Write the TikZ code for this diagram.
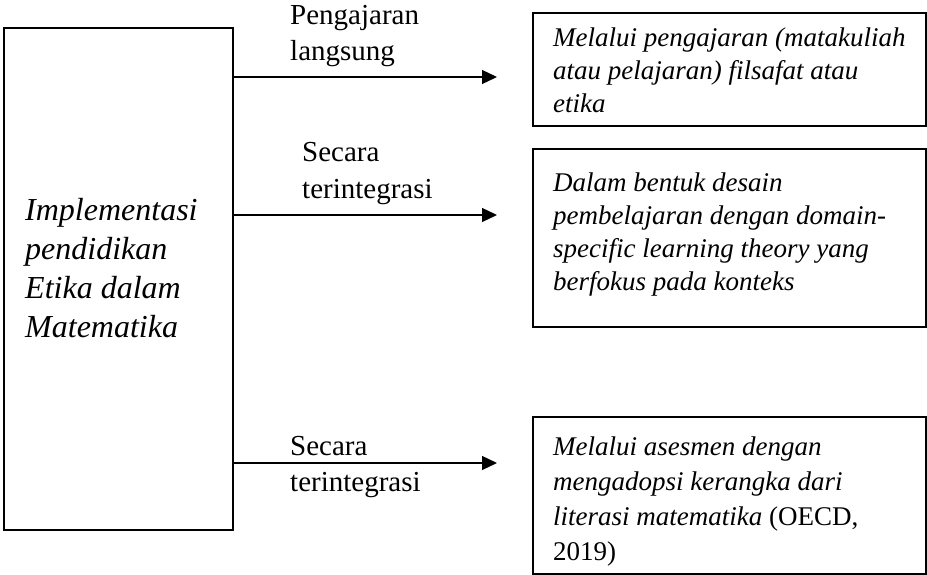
\documentclass[tikz,border=0pt]{standalone}
\usepackage{fontspec}
\setmainfont{Liberation Serif}
\usetikzlibrary{arrows.meta}
\begin{document}
\begin{tikzpicture}[x=1pt,y=-1pt,
  boxline/.style={draw=black,line width=1.3pt},
  txt/.style={anchor=base west,inner sep=0pt,align=left},
  boxtxt/.style={txt,font=\fontsize{27}{#1}\selectfont\itshape},
  lbl/.style={txt,font=\fontsize{29}{36}\selectfont},
  arr/.style={line width=1.3pt,-{Triangle[length=15pt,width=14pt]}}]
\useasboundingbox (0,0) rectangle (927,575);
% boxes
\draw[boxline] (4,28) rectangle (233,530);
\node[inner sep=0pt,minimum width=229pt,minimum height=502pt] (L) at (118.5,279) {};
\draw[boxline] (533,13) rectangle (926,126);
\draw[boxline] (533,149) rectangle (926,327);
\draw[boxline] (533,417) rectangle (926,574);
% texts (base anchor = baseline of last line)
\node[txt,font=\fontsize{32}{39}\selectfont\itshape] (Lt) at (25,337)
  {Implementasi\\pendidikan\\Etika dalam\\Matematika};
\node[boxtxt=33] (b1) at (553,113)
  {Melalui pengajaran (matakuliah\\atau pelajaran) filsafat atau\\etika};
\node[boxtxt=32.8] (b2) at (553,290)
  {Dalam bentuk desain\\pembelajaran dengan domain-\\specific learning theory yang\\berfokus pada konteks};
\node[boxtxt=35] (b3) at (553,560)
  {Melalui asesmen dengan\\mengadopsi kerangka dari\\literasi matematika \upshape(OECD,\\\upshape 2019)};
\node[lbl] (l1) at (290,61) {Pengajaran\\langsung};
\node[lbl] (l2) at (302,198) {Secara\\terintegrasi};
\node[lbl] (l3) at (290,491) {Secara\\terintegrasi};
% arrows
\coordinate (e1) at (497,77);
\coordinate (e2) at (497,215);
\coordinate (e3) at (497,463);
\draw[arr] (L.east |- e1) -- (e1);
\draw[arr] (L.east |- e2) -- (e2);
\draw[arr] (L.east |- e3) -- (e3);
\end{tikzpicture}
\end{document}
